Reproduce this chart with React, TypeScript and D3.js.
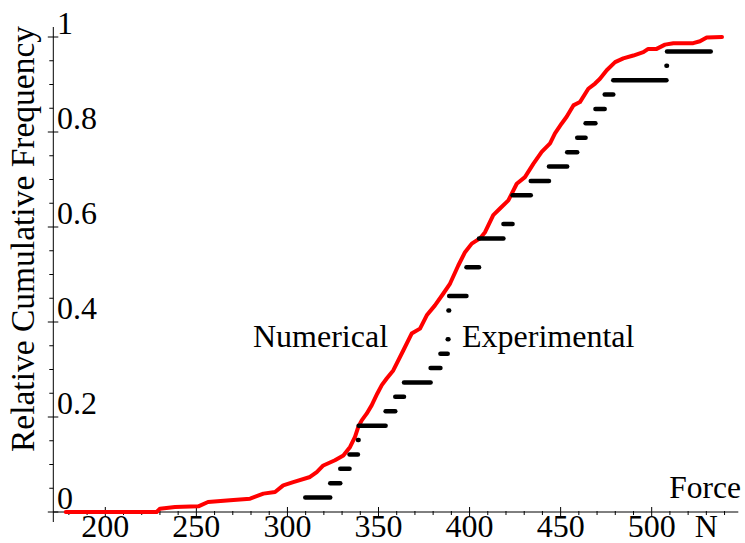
import React from "react";
import * as d3 from "d3";

// Numerical (simulated) cumulative distribution
const numForce = [178.3, 228.2, 230.0, 238.3, 251.1, 256.4, 268.5, 279.5, 286.8, 293.2, 297.7, 303.2, 312.4, 316.1, 319.7, 326.1, 330.7, 334.4, 337.1, 338.9, 340.8, 343.5, 346.3, 349.3, 351.8, 354.5, 358.1, 363.6, 368.2, 372.8, 376.5, 381.0, 385.6, 389.3, 393.8, 397.5, 401.2, 405.7, 408.5, 413.0, 416.7, 421.3, 425.9, 430.4, 435.0, 439.6, 444.2, 446.9, 450.6, 453.3, 457.0, 460.6, 465.2, 468.9, 471.6, 475.3, 479.9, 484.4, 489.9, 495.4, 498.1, 502.7, 507.3, 511.9, 522.8, 526.5, 530.2, 538.6];
const numFreq = [0, 0, 0.007, 0.0105, 0.012, 0.021, 0.0246, 0.028, 0.0387, 0.042, 0.056, 0.063, 0.0737, 0.084, 0.098, 0.109, 0.119, 0.137, 0.158, 0.179, 0.193, 0.207, 0.225, 0.249, 0.267, 0.281, 0.298, 0.34, 0.3756, 0.386, 0.414, 0.435, 0.46, 0.481, 0.519, 0.547, 0.565, 0.576, 0.589, 0.625, 0.639, 0.656, 0.691, 0.705, 0.733, 0.758, 0.776, 0.797, 0.818, 0.832, 0.856, 0.863, 0.891, 0.902, 0.912, 0.93, 0.947, 0.955, 0.961, 0.968, 0.975, 0.975, 0.984, 0.987, 0.987, 0.991, 0.999, 1.0];

// Experimental samples (33 measured forces, N)
const expForce = [309.8, 323.5, 329.0, 334.1, 338.7, 339.1, 353.9, 359.2, 364.0, 378.6, 384.0, 388.0, 388.4, 388.4, 388.8, 398.3, 398.3, 405.2, 405.2, 418.6, 423.6, 423.6, 433.6, 443.6, 453.6, 459.1, 463.7, 469.1, 474.2, 478.9, 508.1, 508.4, 532.4];

const xTickValues = [200, 250, 300, 350, 400, 450, 500];
const yTickValues = [0, 0.2, 0.4, 0.6, 0.8, 1];
const yTickLabels = ["0", "0.2", "0.4", "0.6", "0.8", "1"];
const xAxisTitle = "Force";
const xUnit = "N";
const yAxisTitle = "Relative Cumulative Frequency";
const labelNumerical = "Numerical";
const labelExperimental = "Experimental";

const FONT = "'Liberation Serif', 'Times New Roman', serif";

export default function App() {
  const W = 745, H = 543;
  const x = d3.scaleLinear().domain([200, 500]).range([105.3, 651.7]);
  const y = d3.scaleLinear().domain([0, 1]).range([512, 37]);
  const axisX0 = 53.3;
  const axisXEnd = 738.3;

  const numPts: [number, number][] = numForce.map((f, i) => [f, numFreq[i]]);
  const line = d3.line<[number, number]>().x(d => x(d[0])).y(d => y(d[1]));

  // empirical CDF segments
  const n = expForce.length;
  const sorted = [...expForce].sort((a, b) => a - b);
  const uniq = Array.from(new Set(sorted));
  const segs = uniq.slice(0, -1).map((u, j) => {
    const cnt = sorted.filter(v => v <= u).length;
    return { x1: u, x2: uniq[j + 1], lvl: cnt / n };
  });

  const xMinor = d3.range(180, 545, 10).filter(v => v % 50 !== 0);
  const yMinor = d3.range(0.05, 1.0, 0.05).filter(v => Math.abs(v * 5 - Math.round(v * 5)) > 1e-6);

  return (
    <svg width={W} height={H} style={{ position: "absolute", left: 0, top: 0, background: "#fff" }}
      fontFamily={FONT}>
      {/* axes */}
      <line x1={axisX0} x2={axisXEnd} y1={y(0)} y2={y(0)} stroke="#000" strokeWidth={1} />
      <line x1={axisX0} x2={axisX0} y1={27} y2={522} stroke="#000" strokeWidth={1} />
      {xTickValues.map(v => (
        <line key={"xt" + v} x1={x(v)} x2={x(v)} y1={y(0) - 5} y2={y(0) + 5} stroke="#000" strokeWidth={1} />
      ))}
      {xMinor.map(v => (
        <line key={"xm" + v} x1={x(v)} x2={x(v)} y1={y(0) - 1} y2={y(0) + 3} stroke="#000" strokeWidth={1} />
      ))}
      {yTickValues.map(v => (
        <line key={"yt" + v} x1={axisX0 - 5.5} x2={axisX0 + 5} y1={y(v)} y2={y(v)} stroke="#000" strokeWidth={1} />
      ))}
      {yMinor.map(v => (
        <line key={"ym" + v} x1={axisX0 - 4} x2={axisX0} y1={y(v)} y2={y(v)} stroke="#000" strokeWidth={1} />
      ))}
      {/* tick labels */}
      {xTickValues.map(v => (
        <text key={"xl" + v} x={x(v)} y={537} fontSize={32} textAnchor="middle" fill="#000">{String(v)}</text>
      ))}
      <text x={x(500) + 43} y={537} fontSize={32} fill="#000">{xUnit}</text>
      {yTickValues.map((v, i) => (
        <text key={"yl" + v} x={57} y={y(v) - 3} fontSize={32} fill="#000">{yTickLabels[i]}</text>
      ))}
      {/* titles */}
      <text x={741} y={498} fontSize={31.5} textAnchor="end" fill="#000">{xAxisTitle}</text>
      <text transform={`translate(34,239) rotate(-90)`} fontSize={33.5} textAnchor="middle" fill="#000">{yAxisTitle}</text>
      <text x={253} y={347} fontSize={32} fill="#000">{labelNumerical}</text>
      <text x={462} y={347} fontSize={32} fill="#000">{labelExperimental}</text>
      {/* numerical curve */}
      <path d={line(numPts) || ""} fill="none" stroke="#ff0000" strokeWidth={4} strokeLinejoin="round" strokeLinecap="round" />
      {/* experimental steps */}
      {segs.map((s, i) => (
        <line key={"e" + i} x1={x(s.x1)} x2={x(s.x2)} y1={y(s.lvl)} y2={y(s.lvl)} stroke="#000" strokeWidth={4.5} strokeLinecap="round" />
      ))}
    </svg>
  );
}
